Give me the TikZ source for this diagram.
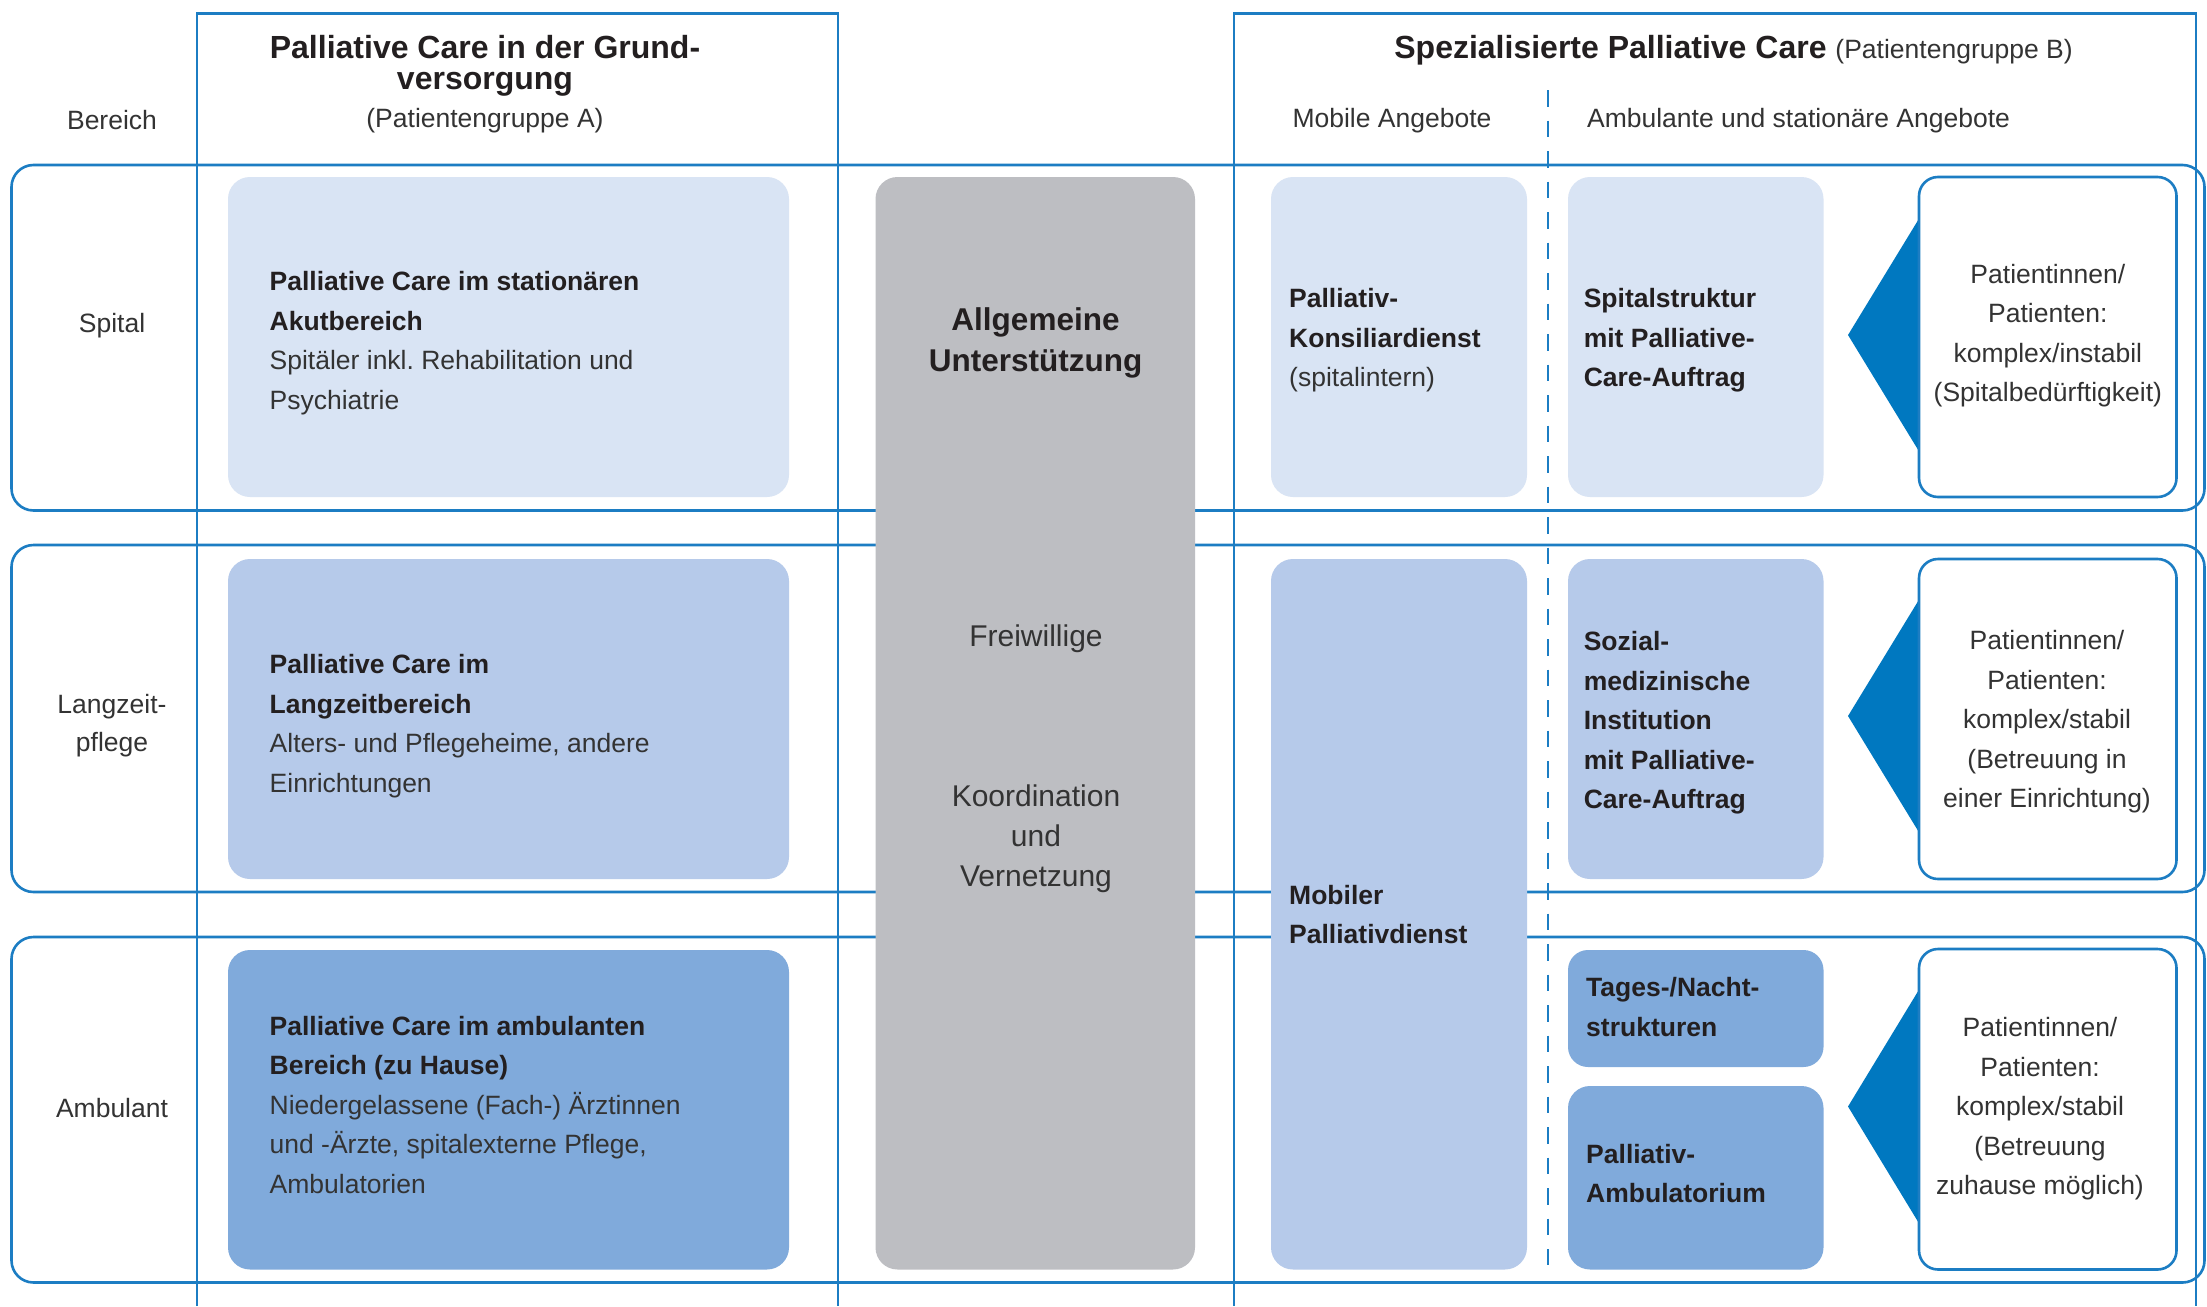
\documentclass[tikz,border=0pt]{standalone}
\usepackage{fontspec}
\setmainfont{Liberation Sans}
\frenchspacing
\definecolor{lineblue}{HTML}{1C7DC3}
\definecolor{triblue}{HTML}{0078C0}
\definecolor{cone}{HTML}{D9E4F4}
\definecolor{ctwo}{HTML}{B6CAEA}
\definecolor{cthree}{HTML}{80AADB}
\definecolor{cgray}{HTML}{BDBEC2}
\definecolor{boldc}{HTML}{231F20}
\definecolor{bodyc}{HTML}{333333}
\newcommand{\hb}[1]{\textcolor{boldc}{\bfseries #1}}
\begin{document}
\begin{tikzpicture}[x=1pt,y=-1pt,
  bl/.style={draw=lineblue, line width=2.6pt},
  rowbox/.style={bl, rounded corners=22pt},
  fbox/.style={rectangle, rounded corners=22pt, inner sep=0pt, draw=none},
  pbox/.style={rectangle, rounded corners=19pt, inner sep=0pt, draw=lineblue, line width=2.6pt, fill=white, minimum width=257.5pt},
  txt/.style={inner sep=0pt, font=\fontsize{26.5}{39.5}\selectfont\frenchspacing, text=bodyc, align=left},
  ctxt/.style={txt, align=center},
]
\useasboundingbox (0,0) rectangle (2207,1306);
\fill[white] (0,0) rectangle (2207,1306);

% column frames
\draw[bl] (197,1306) -- (197,13.6) -- (838,13.6) -- (838,1306);
\draw[bl] (1234,1306) -- (1234,13.6) -- (2196,13.6) -- (2196,1306);

% row frames
\draw[rowbox] (11.5,165) rectangle (2204.5,510.5);
\draw[rowbox] (11.5,545) rectangle (2204.5,892);
\draw[rowbox] (11.5,937) rectangle (2204.5,1282.5);

% dashed divider
\draw[draw=lineblue, line width=2.4pt, dash pattern=on 16.5pt off 14pt] (1547.7,90) -- (1547.7,1265);

% boxes of basic care
\node[fbox, fill=cone, minimum width=561pt, minimum height=320pt] (a1) at (508.5,337) {};
\node[fbox, fill=ctwo, minimum width=561pt, minimum height=320pt] (a2) at (508.5,719) {};
\node[fbox, fill=cthree, minimum width=561pt, minimum height=319.5pt] (a3) at (508.5,1109.75) {};

% general support
\node[fbox, fill=cgray, minimum width=319.5pt, minimum height=1092.5pt] (gray) at (1035.25,723.25) {};

% mobile offers
\node[fbox, fill=cone, minimum width=256pt, minimum height=320pt] (kons) at (1399,337) {};
\node[fbox, fill=ctwo, minimum width=256pt, minimum height=710.5pt] (mobil) at (1399,914.25) {};

% ambulatory and stationary offers
\node[fbox, fill=cone, minimum width=255.5pt, minimum height=320pt] (spit) at (1695.75,337) {};
\node[fbox, fill=ctwo, minimum width=255.5pt, minimum height=320pt] (soz) at (1695.75,719) {};
\node[fbox, fill=cthree, minimum width=255.5pt, minimum height=117pt, rounded corners=20pt] (tag) at (1695.75,1008.5) {};
\node[fbox, fill=cthree, minimum width=255.5pt, minimum height=183.5pt] (ambu) at (1695.75,1177.75) {};

% patient boxes with pointers
\fill[triblue] (1848,335) -- (1920,217) -- (1920,453) -- cycle;
\fill[triblue] (1848,716) -- (1920,598) -- (1920,834) -- cycle;
\fill[triblue] (1848,1106.5) -- (1920,988) -- (1920,1225) -- cycle;
\node[pbox, minimum height=320pt] (p1) at (2047.75,337) {};
\node[pbox, minimum height=320pt] (p2) at (2047.75,719) {};
\node[pbox, minimum height=320.5pt] (p3) at (2047.75,1109.25) {};

% headers
\node[inner sep=0pt, align=center, font=\fontsize{32}{31}\selectfont\bfseries, text=boldc] (titleA) at (485,66) {Palliative Care in der Grund-\\versorgung};
\node[txt, anchor=base] (patA) at (485,127) {(Patientengruppe A)};
\node[inner sep=0pt, anchor=base, text=boldc] (titleB) at (1733.5,59) {\fontsize{32}{32}\selectfont\bfseries Spezialisierte Palliative Care \fontsize{26.5}{30}\selectfont\mdseries\color{bodyc}(Patientengruppe B)};
\node[txt, anchor=base] (mob) at (1392,127.5) {Mobile Angebote};
\node[txt, anchor=base] (amb) at (1798.5,127.5) {Ambulante und stationäre Angebote};

% row labels
\node[txt, anchor=base] (lb0) at (112,129.5) {Bereich};
\node[txt, anchor=base] (lb1) at (112,332.5) {Spital};
\node[ctxt, font=\fontsize{26.5}{38}\selectfont] (lb2) at (112,726) {Langzeit-\\pflege};
\node[txt, anchor=base] (lb3) at (112,1117.5) {Ambulant};

% basic care texts
\node[txt, anchor=west] (ta1) at (269.5,343) {\hb{Palliative Care im stationären}\\\hb{Akutbereich}\\Spitäler inkl. Rehabilitation und\\Psychiatrie};
\node[txt, anchor=west] (ta2) at (269.5,726) {\hb{Palliative Care im}\\\hb{Langzeitbereich}\\Alters- und Pflegeheime, andere\\Einrichtungen};
\node[txt, anchor=west] (ta3) at (269.5,1104.8) {\hb{Palliative Care im ambulanten}\\\hb{Bereich (zu Hause)}\\Niedergelassene (Fach-) Ärztinnen\\und -Ärzte, spitalexterne Pflege,\\Ambulatorien};

% general support texts
\node[inner sep=0pt, align=center, font=\fontsize{31.5}{41}\selectfont\bfseries, text=boldc] (allg) at (1035.5,343) {Allgemeine\\Unterstützung};
\node[inner sep=0pt, anchor=base, font=\fontsize{30}{39}\selectfont, text=bodyc] (frei) at (1036,646.7) {Freiwillige};
\node[inner sep=0pt, align=center, font=\fontsize{30}{40}\selectfont, text=bodyc] (koord) at (1036,838.4) {Koordination\\und\\Vernetzung};

% specialised texts
\node[txt, anchor=west] (tkons) at (1289,340.6) {\hb{Palliativ-}\\\hb{Konsiliardienst}\\(spitalintern)};
\node[txt, anchor=west] (tmob) at (1289,914.5) {\hb{Mobiler}\\\hb{Palliativdienst}};
\node[txt, anchor=west] (tspit) at (1583.6,340.6) {\hb{Spitalstruktur}\\\hb{mit Palliative-}\\\hb{Care-Auftrag}};
\node[txt, anchor=west] (tsoz) at (1583.6,722.8) {\hb{Sozial-}\\\hb{medizinische}\\\hb{Institution}\\\hb{mit Palliative-}\\\hb{Care-Auftrag}};
\node[txt, anchor=west] (ttag) at (1586,1007) {\hb{Tages-/Nacht-}\\\hb{strukturen}};
\node[txt, anchor=west] (tambu) at (1586,1173.5) {\hb{Palliativ-}\\\hb{Ambulatorium}};

% patient texts
\node[ctxt] (tp1) at (2047.8,335.8) {Patientinnen/\\Patienten:\\komplex/instabil\\(Spitalbedürftigkeit)};
\node[ctxt] (tp2) at (2047,721.8) {Patientinnen/\\Patienten:\\komplex/stabil\\(Betreuung in\\einer Einrichtung)};
\node[ctxt] (tp3) at (2040,1108.8) {Patientinnen/\\Patienten:\\komplex/stabil\\(Betreuung\\zuhause möglich)};
\end{tikzpicture}
\end{document}
